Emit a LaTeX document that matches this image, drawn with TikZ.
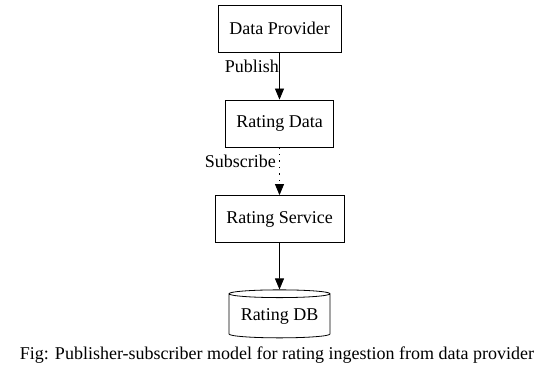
\documentclass[tikz,border=0pt]{standalone}
\usepackage{fontspec}
\setmainfont{Liberation Serif}
\usetikzlibrary{arrows.meta,shapes.geometric}

\tikzset{
	box/.style={draw, line width=0.8pt, rectangle, minimum height=47, inner sep=0pt, font=\fontsize{18}{22}\selectfont},
	store/.style={draw, line width=0.8pt, cylinder, shape border rotate=90, aspect=0.1, minimum width=101, minimum height=48, inner sep=0pt, font=\fontsize{18}{22}\selectfont},
	flow/.style={line width=0.8pt, -{Triangle[length=11pt,width=9pt]}},
	edgelabel/.style={font=\fontsize{18}{22}\selectfont, inner sep=0pt}
}

\begin{document}
\begin{tikzpicture}[x=1pt, y=-1pt]
			%%%%% START %%%%%
			\useasboundingbox (0, 0) rectangle (552, 377);
			
			\node[box, minimum width=123] (provider) at (279.5, 28.5) {Data Provider};
			\node[box, minimum width=108] (ratingdata) at (279.5, 123.5) {Rating Data};
			\node[box, minimum width=129] (service) at (279.5, 219) {Rating Service};
			\node[store] (ratingdb) at (279.5, 316) {Rating DB};
			
			\draw[flow] (provider) -- (ratingdata);
			\draw[flow, dash pattern=on 1.5pt off 5pt] (ratingdata) -- (service);
			\draw[flow] (service) -- (ratingdb);
			
			\node[edgelabel, anchor=east] (publish) at (279, 66) {Publish};
			\node[edgelabel, anchor=east] (subscribe) at (276, 161) {Subscribe};
			
			\node[edgelabel] (caption) at (277, 355) {Fig: Publisher-subscriber model for rating ingestion from data provider};
			
			%%%%% END %%%%%
		\end{tikzpicture}
\end{document}
